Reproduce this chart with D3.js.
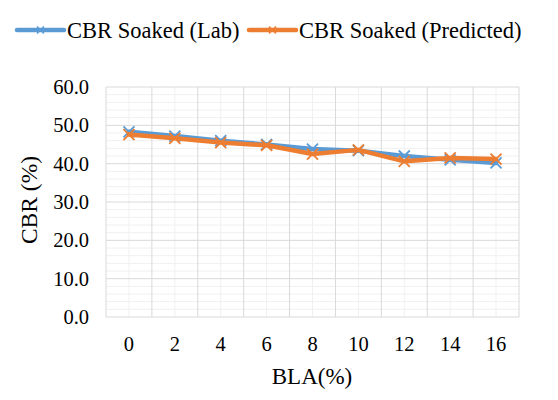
<!DOCTYPE html>
<html><head><meta charset="utf-8">
<script src="https://cdn.jsdelivr.net/npm/d3@7"></script>
<style>body{margin:0;background:#fff}svg{display:block}</style>
</head><body><svg id="c" width="558" height="400"></svg>
<script>
const categories = ["0","2","4","6","8","10","12","14","16"];
const labValues = [48.3, 47.2, 46.0, 45.0, 43.8, 43.4, 42.0, 41.0, 40.2];
const predValues = [47.6, 46.6, 45.5, 44.8, 42.5, 43.6, 40.6, 41.5, 41.2];
const yTicks = [0, 10, 20, 30, 40, 50, 60];
const seriesNames = ["CBR Soaked (Lab)", "CBR Soaked (Predicted)"];
const colors = ["#5b9bd5", "#ed7d31"];
const FONT = '"Liberation Serif"';

const svg = d3.select("#c");
const L = 106, R = 519, T = 87, B = 317;
const x = d3.scaleBand().domain(categories).range([L, R]);
const y = d3.scaleLinear().domain([0, 60]).range([B, T]);

const g = svg.append("g");
d3.range(0, 61, 2).filter(v => v % 10 !== 0).forEach(v => {
  g.append("line").attr("x1", L).attr("x2", R).attr("y1", y(v)).attr("y2", y(v))
    .attr("stroke", "#f0f0f0").attr("stroke-width", 1);
});
categories.forEach(c => {
  const cx = x(c) + x.bandwidth() / 2;
  g.append("line").attr("x1", cx).attr("x2", cx).attr("y1", T).attr("y2", B)
    .attr("stroke", "#f0f0f0").attr("stroke-width", 1);
});
yTicks.forEach(v => {
  g.append("line").attr("x1", L).attr("x2", R).attr("y1", y(v)).attr("y2", y(v))
    .attr("stroke", "#d9d9d9").attr("stroke-width", 1);
});
categories.forEach(c => {
  g.append("line").attr("x1", x(c)).attr("x2", x(c)).attr("y1", T).attr("y2", B)
    .attr("stroke", "#d9d9d9").attr("stroke-width", 1);
});
g.append("line").attr("x1", R).attr("x2", R).attr("y1", T).attr("y2", B)
  .attr("stroke", "#d9d9d9").attr("stroke-width", 1);

const yAxis = d3.axisLeft(y).tickValues(yTicks).tickFormat(d3.format(".1f")).tickSize(0).tickPadding(17);
const ya = svg.append("g").attr("transform", `translate(${L},0)`).call(yAxis);
ya.select(".domain").remove();
ya.selectAll("text").style("font-family", FONT).style("font-size", "20.5px").attr("fill", "#000");

const xAxis = d3.axisBottom(x).tickSize(0).tickPadding(19);
const xa = svg.append("g").attr("transform", `translate(0,${B})`).call(xAxis);
xa.select(".domain").remove();
xa.selectAll("text").style("font-family", FONT).style("font-size", "20.5px").attr("fill", "#000");

svg.append("text").attr("x", 312).attr("y", 384).attr("text-anchor", "middle")
  .style("font-family", FONT).style("font-size", "23px").text("BLA(%)");
svg.append("text").attr("transform", "translate(37,200) rotate(-90)").attr("text-anchor", "middle")
  .style("font-family", FONT).style("font-size", "23.5px").text("CBR (%)");

const cx = c => x(c) + x.bandwidth() / 2;
const line = d3.line().x((d, i) => cx(categories[i])).y(d => y(d));
function marker(sel, px, py, col, s, w) {
  sel.append("path").attr("d", `M${px - s},${py - s}L${px + s},${py + s}M${px - s},${py + s}L${px + s},${py - s}`)
    .attr("stroke", col).attr("stroke-width", w).attr("fill", "none");
}
[labValues, predValues].forEach((vals, k) => {
  svg.append("path").datum(vals).attr("d", line).attr("fill", "none")
    .attr("stroke", colors[k]).attr("stroke-width", 4.5).attr("stroke-linejoin", "round").attr("stroke-linecap", "round");
  vals.forEach((v, i) => marker(svg, cx(categories[i]), y(v), colors[k], 5.5, 1.8));
});

const legLine = [17, 249], legText = [67, 299];
seriesNames.forEach((n, k) => {
  const lx = legLine[k];
  svg.append("line").attr("x1", lx).attr("x2", lx + 47).attr("y1", 30).attr("y2", 30)
    .attr("stroke", colors[k]).attr("stroke-width", 4.5).attr("stroke-linecap", "round");
  marker(svg, lx + 23.5, 30, colors[k], 3.5, 1.6);
  svg.append("text").attr("x", legText[k]).attr("y", 37.5)
    .style("font-family", FONT).style("font-size", "22.5px").text(n);
});
</script></body></html>
